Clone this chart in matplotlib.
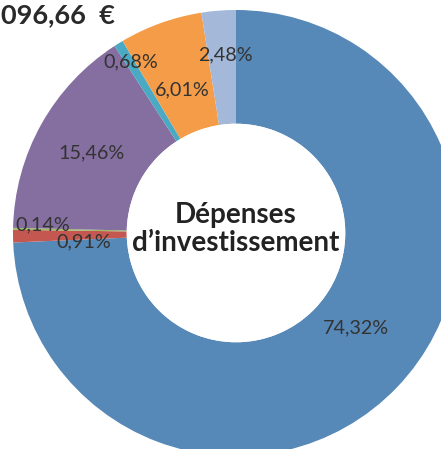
import matplotlib.pyplot as plt
from matplotlib.patches import Circle

# Breakdown of capital expenditure (share of total, %)
categories = ["A", "B", "C", "D", "E", "F", "G"]
shares = [74.32, 0.91, 0.14, 15.46, 0.68, 6.01, 2.48]
share_labels = ["74,32%", "0,91%", "0,14%", "15,46%", "0,68%", "6,01%", "2,48%"]
colors = ["#5688b8", "#c4574f", "#9dbb61", "#856ea0", "#4aa9c3", "#f59c48", "#a4b8da"]

center_title = "Dépenses\nd’investissement"
total_text = "096,66  €"

W, H = 441, 449
CX, CY = 236, 233          # donut centre, pixel coords from the top-left
R_OUT = 223
HOLE = 0.49                # hole radius as a fraction of the outer radius

# label anchors (pixels from the top-left), same order as shares
label_pos = [(356, 328), (84, 242), (43, 225), (91, 153), (131, 62), (182, 90), (225, 55)]


def py(y):
    return H - y


fig = plt.figure(figsize=(W / 100, H / 100), dpi=100)
ax = fig.add_axes([0, 0, 1, 1])

ax.pie(
    shares,
    colors=colors,
    startangle=90,
    counterclock=False,
    radius=R_OUT,
    center=(CX, py(CY)),
    wedgeprops=dict(width=R_OUT * (1 - HOLE), edgecolor="none", linewidth=0),
    frame=True,
)
ax.set_xlim(0, W)
ax.set_ylim(0, H)
ax.set_aspect("equal")
ax.axis("off")

ax.add_patch(Circle((CX, py(CY)), R_OUT * HOLE, facecolor="white", edgecolor="none", zorder=3))

for text, (x, y) in zip(share_labels, label_pos):
    ax.text(x, py(y), text, ha="center", va="center", fontsize=14.2,
            family="Lato", color="#333333", zorder=4)

ax.text(CX, py(CY - 4), center_title, ha="center", va="center", fontsize=20,
        family="Lato", fontweight="bold", color="#222222", linespacing=1.05, zorder=4)

ax.text(1, py(15), total_text, ha="left", va="center", fontsize=19.5,
        family="Lato", fontweight="bold", color="#2a2a2a")

fig.savefig("out.png", dpi=100)
